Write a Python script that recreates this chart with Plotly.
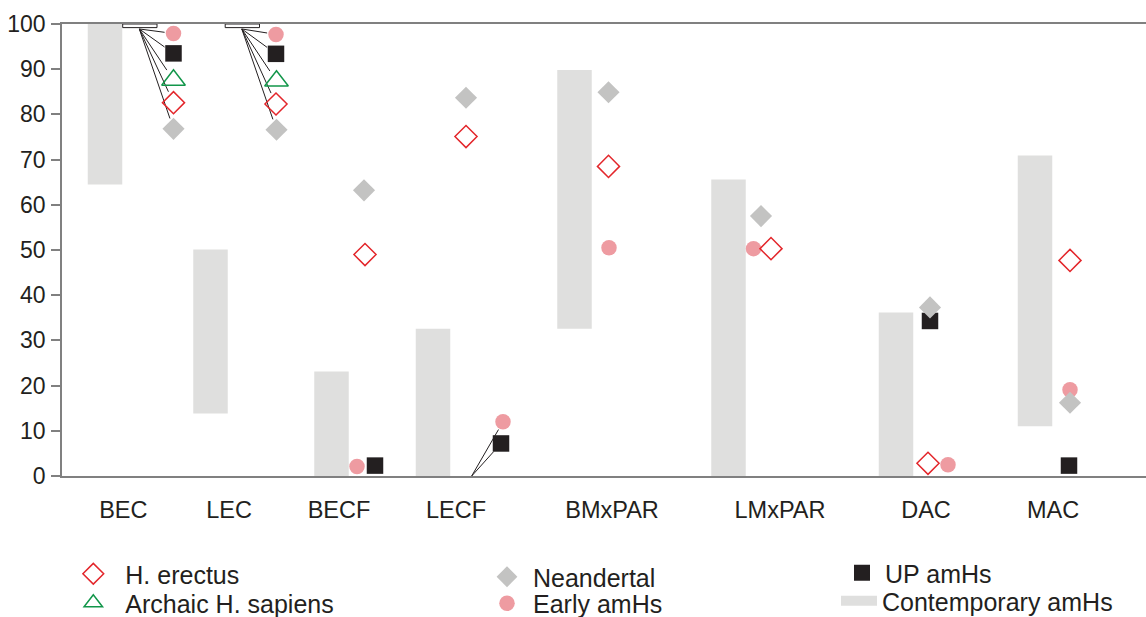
import math
import plotly.graph_objects as go

# ---------------- data ----------------
categories = ["BEC", "LEC", "BECF", "LECF", "BMxPAR", "LMxPAR", "DAC", "MAC"]

# Contemporary amHs ranges (floating bars)
contemporary_low = [64.5, 13.8, 0.0, -0.3, 32.6, 0.0, 0.0, 11.0]
contemporary_high = [100.0, 50.1, 23.1, 32.6, 89.8, 65.6, 36.2, 70.9]

erectus_cat = ["BEC", "LEC", "BECF", "LECF", "BMxPAR", "LMxPAR", "DAC", "MAC"]
erectus_val = [82.6, 82.3, 49.0, 75.1, 68.5, 50.3, 2.8, 47.7]

archaic_cat = ["BEC", "LEC"]
archaic_val = [87.6, 87.4]

neandertal_cat = ["BEC", "LEC", "BECF", "LECF", "BMxPAR", "LMxPAR", "DAC", "MAC"]
neandertal_val = [76.8, 76.6, 63.2, 83.7, 84.9, 57.5, 37.3, 16.2]

early_cat = ["BEC", "LEC", "BECF", "LECF", "BMxPAR", "LMxPAR", "DAC", "MAC"]
early_val = [97.9, 97.7, 2.1, 12.0, 50.5, 50.3, 2.5, 19.1]

up_cat = ["BEC", "LEC", "BECF", "LECF", "DAC", "MAC"]
up_val = [93.5, 93.4, 2.3, 7.2, 34.3, 2.3]

y_ticks = [0, 10, 20, 30, 40, 50, 60, 70, 80, 90, 100]

# ---------------- layout positions (x-axis units) ----------------
label_x = [6.13, 16.7, 27.7, 39.4, 55.0, 71.8, 86.4, 99.1]
bar_x = [4.3, 14.85, 26.95, 37.1, 51.25, 66.65, 83.4, 97.3]
bar_width = 3.45

erectus_x = [11.15, 21.4, 30.3, 40.4, 54.65, 70.9, 86.6, 100.8]
archaic_x = [11.15, 21.45]
neandertal_x = [11.15, 21.45, 30.2, 40.4, 54.65, 69.9, 86.8, 100.8]
early_x = [11.15, 21.4, 29.5, 44.1, 54.7, 69.15, 88.6, 100.8]
up_x = [11.15, 21.4, 31.3, 43.9, 86.8, 100.7]

# pixel scale used to shorten leader lines to marker edges
PX_X, PX_Y = 10.0, 4.52

# colours
C_ERECTUS = "#E3262B"
C_ARCHAIC = "#12964A"
C_NEAND = "#C3C3C2"
C_EARLY = "#EE9BA1"
C_UP = "#231F20"
C_CONT = "#DFDFDE"
C_AXIS = "#808080"
C_TEXT = "#231F20"
FONT = "Liberation Sans, Arial, sans-serif"

fig = go.Figure()

# Contemporary amHs bars
fig.add_trace(go.Bar(
    x=bar_x,
    y=[h - l for h, l in zip(contemporary_high, contemporary_low)],
    base=contemporary_low,
    width=bar_width,
    marker=dict(color=C_CONT, line=dict(width=0)),
    showlegend=False, hoverinfo="skip",
))

# ---------- leader lines ----------
def edge_point(ox, oy, tx, ty, r):
    dxp = (tx - ox) * PX_X
    dyp = (ty - oy) * PX_Y
    d = math.hypot(dxp, dyp)
    return tx - dxp / d * r / PX_X, ty - dyp / d * r / PX_Y

lx, ly = [], []
series_lookup = {
    "early": (early_cat, early_x, early_val, 9),
    "up": (up_cat, up_x, up_val, 11),
    "archaic": (archaic_cat, archaic_x, archaic_val, 12),
    "erectus": (erectus_cat, erectus_x, erectus_val, 12),
    "neandertal": (neandertal_cat, neandertal_x, neandertal_val, 11),
}
boxes = []
for cat in ["BEC", "LEC"]:
    mx = early_x[early_cat.index(cat)]
    ox, oy = mx - 3.42, 98.9
    boxes.append((mx - 5.08, mx - 1.65))
    for key, (cats, xs, vals, r) in series_lookup.items():
        if cat in cats:
            i = cats.index(cat)
            ex, ey = edge_point(ox, oy, xs[i], vals[i], r)
            lx += [ox, ex, None]
            ly += [oy, ey, None]
# LECF leaders from the baseline
cat = "LECF"
ox, oy = early_x[early_cat.index(cat)] - 3.13, 0.0
for key in ["early", "up"]:
    cats, xs, vals, r = series_lookup[key]
    i = cats.index(cat)
    ex, ey = edge_point(ox, oy, xs[i], vals[i], r)
    lx += [ox, ex, None]
    ly += [oy, ey, None]

fig.add_trace(go.Scatter(
    x=lx, y=ly, mode="lines", line=dict(color=C_UP, width=1),
    showlegend=False, hoverinfo="skip", cliponaxis=False,
))

# ---------- markers ----------
fig.add_trace(go.Scatter(
    x=early_x, y=early_val, mode="markers", name="Early amHs",
    marker=dict(symbol="circle", size=15.5, color=C_EARLY, line=dict(width=0)),
    cliponaxis=False, legend="legend4",
))
fig.add_trace(go.Scatter(
    x=up_x, y=up_val, mode="markers", name="UP amHs",
    marker=dict(symbol="square", size=16.5, color=C_UP, line=dict(width=0)),
    cliponaxis=False, legend="legend5",
))
fig.add_trace(go.Scatter(
    x=archaic_x, y=archaic_val, mode="markers", name="Archaic H. sapiens",
    marker=dict(symbol="triangle-up-open", size=20.5, color=C_ARCHAIC,
                line=dict(width=1.5, color=C_ARCHAIC)),
    cliponaxis=False, legend="legend2",
))
fig.add_trace(go.Scatter(
    x=neandertal_x, y=neandertal_val, mode="markers", name="Neandertal",
    marker=dict(symbol="diamond", size=17, color=C_NEAND, line=dict(width=0)),
    cliponaxis=False, legend="legend3",
))
fig.add_trace(go.Scatter(
    x=erectus_x, y=erectus_val, mode="markers", name="H. erectus",
    marker=dict(symbol="diamond-open", size=17, color=C_ERECTUS,
                line=dict(width=1.5, color=C_ERECTUS)),
    cliponaxis=False, legend="legend",
))
# legend entry for Contemporary amHs
fig.add_trace(go.Scatter(
    x=[None], y=[None], mode="lines", name="Contemporary amHs",
    line=dict(color=C_CONT, width=14), legend="legend6",
))

# small boxes at the top for BEC / LEC
for x0, x1 in boxes:
    fig.add_shape(type="rect", xref="x", yref="y", x0=x0, x1=x1, y0=99.2, y1=100,
                  fillcolor="white", line=dict(color=C_UP, width=1))

# ---------- figure geometry ----------
W, H = 1146, 617
L, R, T, B = 62, 0, 24, 141
PW, PH = W - L - R, H - T - B

def px2paper_x(px):
    return (px - L) / PW

def px2paper_y(py):
    return (H - B - py) / PH

def legend_cfg(sym_x, row_y, itemwidth):
    center = itemwidth / 2 + 5
    return dict(
        x=px2paper_x(sym_x - center), y=px2paper_y(row_y),
        xanchor="left", yanchor="middle", xref="paper", yref="paper",
        bgcolor="rgba(0,0,0,0)", borderwidth=0,
        font=dict(family=FONT, size=25, color=C_TEXT),
        itemwidth=itemwidth, itemclick=False, itemdoubleclick=False,
    )

fig.update_layout(
    legend=legend_cfg(93.3, 574, 54),
    legend2=legend_cfg(93.3, 603, 54),
    legend3=legend_cfg(507, 577, 42),
    legend4=legend_cfg(507, 603.5, 42),
    legend5=legend_cfg(862, 573, 36),
    legend6=legend_cfg(859, 601, 36),
)

fig.update_layout(
    width=W, height=H,
    margin=dict(l=L, r=R, t=T, b=B, autoexpand=False),
    paper_bgcolor="white", plot_bgcolor="white",
    barmode="overlay",
    font=dict(family=FONT, color=C_TEXT),
    xaxis=dict(
        range=[0, PW / PX_X], showgrid=False, zeroline=False,
        showline=True, linecolor=C_AXIS, linewidth=1.5, mirror=True,
        ticks="", tickvals=label_x, ticktext=categories,
        tickfont=dict(family=FONT, size=23.5, color=C_TEXT),
        ticklabelstandoff=12,
    ),
    yaxis=dict(
        range=[0, 100], showgrid=False, zeroline=False,
        showline=True, linecolor=C_AXIS, linewidth=1.5,
        ticks="outside", ticklen=9, tickwidth=1.5, tickcolor=C_AXIS,
        tickvals=y_ticks, ticktext=[str(v) for v in y_ticks],
        tickfont=dict(family=FONT, size=23, color=C_TEXT),
        ticklabelstandoff=1,
    ),
)

fig.write_html(
    "out.html",
    config={"displayModeBar": False},
    post_script="document.body.style.margin='0';document.body.style.overflow='hidden';",
)
